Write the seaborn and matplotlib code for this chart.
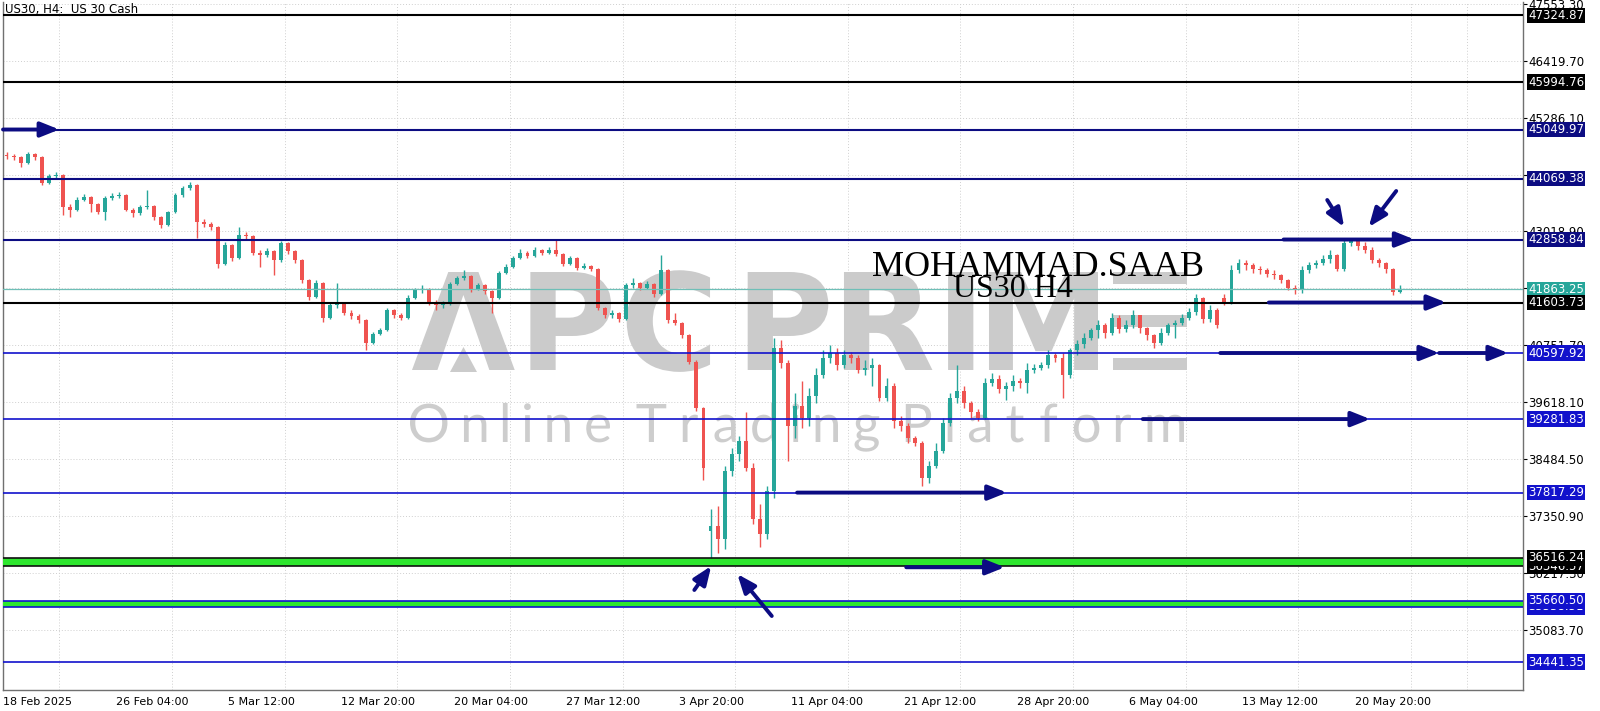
import matplotlib
matplotlib.use("Agg")
import matplotlib.pyplot as plt
import seaborn as sns
import numpy as np
from matplotlib.font_manager import FontProperties
from matplotlib.textpath import TextPath
from matplotlib.path import Path
from matplotlib.patches import PathPatch, Polygon, Rectangle
from matplotlib.transforms import Affine2D, IdentityTransform

# US30 H4, each candle here spans two H4 bars
opens = [44550, 44520, 44500, 44380, 44560, 44500, 43980, 44120, 44150, 43500,
         43450, 43650, 43700, 43560, 43400, 43680, 43720, 43750, 43450, 43380,
         43500, 43520, 43300, 43150, 43400, 43740, 43880, 43950, 43200, 43160,
         43100, 42380, 42750, 42500, 42950, 42920, 42600, 42560, 42620, 42450,
         42780, 42620, 42450, 42050, 41720, 42000, 41300, 41550, 41600, 41400,
         41330, 41250, 40800, 40980, 41050, 41450, 41350, 41300, 41700, 41850,
         41880, 41600, 41550, 41580, 41980, 42100, 42130, 41870, 41950, 41830,
         41700, 42200, 42320, 42500, 42600, 42540, 42640, 42600, 42640, 42580,
         42380, 42500, 42300, 42340, 42280, 41500, 41350, 41400, 41280, 41950,
         42000, 41900, 41980, 41780, 42250, 41260, 41200, 40950, 40420, 39500,
         37050, 37150, 36900, 38250, 38580, 38850, 38300, 37300, 37000, 37850,
         40700, 40400, 39150, 39550, 39300, 39750, 40150, 40500, 40600, 40350,
         40550, 40500, 40250, 40300, 40350, 39700, 39950, 39250, 39150, 38900,
         38800, 38100, 38350, 38650, 39200, 39700, 39850, 39600, 39420, 39300,
         40000, 40080, 39880, 39950, 40050, 40000, 40250, 40300, 40350, 40550,
         40500, 40150, 40650, 40780, 40900, 41050, 41150, 41000, 41300, 41080,
         41150, 41350, 41100, 40950, 40800, 41000, 41150, 41200, 41300, 41420,
         41700, 41280, 41450, 41700, 41600, 42250, 42400, 42350, 42280, 42260,
         42180, 42150, 42050, 41900, 41850, 42250, 42350, 42400, 42480, 42560,
         42280, 42780, 42820, 42720, 42650, 42450, 42400, 42280, 41820]

highs = [44600, 44570, 44520, 44600, 44580, 44520, 44160, 44200, 44170, 43560,
         43700, 43760, 43720, 43590, 43720, 43780, 43800, 43760, 43480, 43540,
         43840, 43540, 43320, 43430, 43780, 43920, 44010, 43960, 43260, 43200,
         43120, 42800, 42760, 43110, 43000, 42940, 42650, 42680, 42650, 42820,
         42800, 42640, 42470, 42080, 42050, 42020, 41600, 41990, 41620, 41450,
         41380, 41270, 41020, 41100, 41500, 41470, 41400, 41750, 41900, 41950,
         41900, 41650, 41640, 42020, 42140, 42250, 42150, 42000, 41980, 41850,
         42240, 42380, 42540, 42660, 42620, 42710, 42660, 42700, 42850, 42600,
         42540, 42520, 42400, 42360, 42300, 41520, 41450, 41420, 42000, 42100,
         42020, 42040, 42000, 42550, 42270, 41400, 41220, 40970, 40450, 39520,
         37500, 37550, 38350, 38700, 38950, 39420, 38400, 37600, 37950, 40900,
         40850, 40450, 39800, 40050, 39900, 40300, 40650, 40760, 40700, 40650,
         40620, 40550, 40450, 40500, 40380, 40100, 40000, 39350, 39200, 38950,
         38850, 38450, 38800, 39300, 39800, 40350, 39950, 39650, 39480, 40100,
         40200, 40150, 40020, 40150, 40100, 40400, 40380, 40420, 40650, 40600,
         40600, 40700, 40850, 41000, 41100, 41250, 41200, 41400, 41350, 41250,
         41450, 41350, 41120, 40980, 41100, 41200, 41260, 41380, 41500, 41780,
         41720, 41550, 41500, 41780, 42350, 42480, 42450, 42400, 42340, 42300,
         42250, 42180, 42080, 41950, 42330, 42420, 42450, 42550, 42650, 42580,
         42850, 42880, 42860, 42800, 42700, 42500, 42420, 42300, 41950]

lows = [44470, 44440, 44300, 44360, 44450, 43940, 43960, 44080, 43350, 43310,
        43420, 43620, 43400, 43360, 43250, 43640, 43690, 43420, 43300, 43350,
        43470, 43250, 43080, 43120, 43380, 43700, 43850, 42890, 43100, 43050,
        42300, 42350, 42440, 42480, 42850, 42560, 42320, 42520, 42150, 42420,
        42580, 42400, 42000, 41650, 41700, 41220, 41280, 41500, 41350, 41280,
        41200, 40650, 40780, 40950, 41030, 41300, 41250, 41280, 41680, 41800,
        41550, 41450, 41500, 41560, 41950, 42060, 41820, 41850, 41780, 41390,
        41680, 42180, 42300, 42480, 42500, 42520, 42560, 42580, 42540, 42330,
        42360, 42260, 42280, 42230, 41450, 41300, 41300, 41220, 41260, 41900,
        41860, 41880, 41720, 41750, 41200, 41150, 40900, 40380, 39450, 38070,
        36480, 36620, 36700, 38150, 38450, 38250, 37200, 36730, 36900, 37700,
        40300, 38450, 38900, 39100, 39150, 39600, 40100, 40400, 40250, 40300,
        40400, 40200, 40150, 39950, 39650, 39650, 39100, 39050, 38800, 38750,
        37950, 38000, 38300, 38600, 39150, 39600, 39500, 39300, 39250, 39280,
        39950, 39800, 39660, 39850, 39900, 39800, 40200, 40250, 40300, 40420,
        39700, 40100, 40550, 40700, 40850, 40900, 40900, 40950, 41000, 41020,
        41100, 41000, 40850, 40700, 40750, 40950, 40900, 41150, 41250, 41350,
        41200, 41220, 41100, 41550, 41580, 42200, 42250, 42200, 42180, 42120,
        42080, 42000, 41850, 41780, 41800, 42200, 42300, 42350, 42400, 42230,
        42230, 42720, 42650, 42600, 42400, 42320, 42200, 41750, 41790]

closes = [44520, 44500, 44380, 44560, 44500, 43980, 44120, 44150, 43500, 43450,
          43650, 43700, 43560, 43400, 43680, 43720, 43750, 43450, 43380, 43500,
          43520, 43300, 43150, 43400, 43740, 43880, 43950, 43200, 43160, 43100,
          42380, 42750, 42500, 42950, 42920, 42600, 42560, 42620, 42450, 42780,
          42620, 42450, 42050, 41720, 42000, 41300, 41550, 41600, 41400, 41330,
          41250, 40800, 40980, 41050, 41450, 41350, 41300, 41700, 41850, 41880,
          41600, 41550, 41580, 41980, 42100, 42130, 41870, 41950, 41830, 41700,
          42200, 42320, 42500, 42600, 42540, 42640, 42600, 42640, 42580, 42380,
          42500, 42300, 42340, 42280, 41500, 41350, 41400, 41280, 41950, 42000,
          41900, 41980, 41780, 42250, 41260, 41200, 40950, 40420, 39500, 38300,
          37150, 36900, 38250, 38580, 38850, 38300, 37300, 37000, 37850, 40700,
          40400, 39150, 39550, 39300, 39750, 40150, 40500, 40600, 40350, 40550,
          40500, 40250, 40300, 40350, 39700, 39950, 39250, 39150, 38900, 38800,
          38100, 38350, 38650, 39200, 39700, 39850, 39600, 39420, 39300, 40000,
          40080, 39880, 39950, 40050, 40000, 40250, 40300, 40350, 40550, 40500,
          40150, 40650, 40780, 40900, 41050, 41150, 41000, 41300, 41080, 41150,
          41350, 41100, 40950, 40800, 41000, 41150, 41200, 41300, 41420, 41700,
          41280, 41450, 41150, 41600, 42250, 42400, 42350, 42280, 42260, 42180,
          42150, 42050, 41900, 41850, 42250, 42350, 42400, 42480, 42560, 42280,
          42780, 42820, 42720, 42650, 42450, 42400, 42280, 41820, 41863]

date_labels = ["18 Feb 2025", "26 Feb 04:00", "5 Mar 12:00", "12 Mar 20:00",
               "20 Mar 04:00", "27 Mar 12:00", "3 Apr 20:00", "11 Apr 04:00",
               "21 Apr 12:00", "28 Apr 20:00", "6 May 04:00", "13 May 12:00",
               "20 May 20:00"]
candles_per_label = 16

price_ticks = [47553.30, 46419.70, 45286.10, 44152.50, 43018.90, 41885.30,
               40751.70, 39618.10, 38484.50, 37350.90, 36217.30, 35083.70]

black_levels = [47324.87, 45994.76, 41603.73]
navy_levels = [45049.97, 44069.38, 42858.84]
blue_levels = [40597.92, 39281.83, 37817.29, 34441.35]
upper_band = [36346.57, 36516.24]
lower_band = [35538.51, 35660.50]
last_price = 41863.25

W, H = 1600, 711
BULL, BEAR = "#26a69a", "#ef5350"
NAVY, BLUE, TEAL = "#0c0c82", "#1212cc", "#26a69a"
GREEN = "#2ee62e"
WM = "#cbcbcb"

sns.set_theme(style="white", rc={"axes.edgecolor": "#707070"})
plt.rcParams["font.family"] = ["DejaVu Sans"]

fig = plt.figure(figsize=(W / 100, H / 100), dpi=100)
fig.patch.set_facecolor("white")
ax = fig.add_axes([3 / W, (H - 690) / H, 1520 / W, 688 / H])
ax.set_facecolor("white")

px_per_candle = 7.04
ax.set_xlim(-0.5, -0.5 + 1520 / px_per_candle)
ax.set_ylim(33885, 47590)

# candles
o = np.array(opens, float)
c = np.array(closes, float)
hi = np.array(highs, float)
lo = np.array(lows, float)
x = np.arange(len(c))
col = np.where(c >= o, BULL, BEAR)
ax.vlines(x, lo, hi, colors=col, lw=1.0, zorder=3)
ax.bar(x, np.maximum(np.abs(c - o), 18), bottom=np.minimum(o, c), width=0.56,
       color=col, lw=0, zorder=3)

# axes, ticks, grid
ax.yaxis.tick_right()
ax.set_yticks(price_ticks)
ax.set_yticklabels([f"{p:.2f}" for p in price_ticks])
ax.tick_params(axis="y", length=3, width=0.8, pad=1, labelsize=8.5,
               colors="black", direction="out")
major_x = [candles_per_label * k - 0.5 for k in range(len(date_labels))]
ax.set_xticks(major_x)
ax.set_xticklabels(date_labels)
ax.set_xticks([candles_per_label // 2 * k - 0.5 for k in range(27)], minor=True)
ax.tick_params(axis="x", which="major", length=4, width=0.8, pad=1,
               labelsize=8, colors="black", direction="out")
ax.tick_params(axis="x", which="minor", length=0)
plt.setp(ax.get_xticklabels(), ha="left")
ax.grid(True, axis="y", which="major", ls=(0, (1, 2)), color="#cfcfcf", lw=0.7)
ax.grid(True, axis="x", which="minor", ls=(0, (1, 2)), color="#cfcfcf", lw=0.7)
ax.set_axisbelow(True)
for s in ["left", "right", "bottom"]:
    ax.spines[s].set_color("#707070")
    ax.spines[s].set_linewidth(1.0)
ax.spines["top"].set_visible(False)

# horizontal levels
for p in black_levels:
    ax.axhline(p, color="black", lw=1.5, zorder=4)
for p in navy_levels:
    ax.axhline(p, color=NAVY, lw=1.5, zorder=4)
for p in blue_levels:
    ax.axhline(p, color=BLUE, lw=1.2, zorder=4)
ax.axhspan(upper_band[0], upper_band[1], color=GREEN, lw=0, zorder=3.8)
ax.axhspan(lower_band[0], lower_band[1], color=GREEN, lw=0, zorder=3.8)
for p in upper_band:
    ax.axhline(p, color="#101010", lw=1.2, zorder=4)
for p in lower_band:
    ax.axhline(p, color=BLUE, lw=1.2, zorder=4)
ax.axhline(last_price, color="#6fbfb7", lw=0.9, zorder=4)


def price_box(p, bg):
    ax.text(1 + 5 / 1520, p, f"{p:.2f}", transform=ax.get_yaxis_transform(),
            ha="left", va="center", fontsize=8.5, color="white",
            bbox=dict(boxstyle="square,pad=0.1", fc=bg, ec="none"),
            clip_on=False, zorder=12)


for p in black_levels[:2]:
    price_box(p, "black")
for p in navy_levels:
    price_box(p, NAVY)
price_box(last_price, TEAL)
price_box(black_levels[2], "black")
for p in blue_levels[:3]:
    price_box(p, BLUE)
price_box(upper_band[0], "black")
price_box(upper_band[1], "black")
price_box(lower_band[0], BLUE)
price_box(lower_band[1], BLUE)
price_box(blue_levels[3], BLUE)

# hand-drawn arrows
arrows = [((-0.5, 45049.97), (7.5, 45049.97)),
          ((181.4, 42858.84), (200.0, 42858.84)),
          ((179.3, 41603.73), (204.5, 41603.73)),
          ((172.4, 40597.92), (203.5, 40597.92)),
          ((203.5, 40597.92), (213.3, 40597.92)),
          ((161.4, 39281.83), (193.7, 39281.83)),
          ((112.3, 37817.29), (142.1, 37817.29)),
          ((127.8, 36330), (141.8, 36330)),
          ((97.7, 35877), (100.1, 36355)),
          ((108.7, 35359), (103.8, 36196)),
          ((187.6, 43646), (190.0, 43108)),
          ((197.4, 43825), (193.5, 43108))]
for tail, tip in arrows:
    ax.annotate("", xy=tip, xytext=tail, zorder=8,
                arrowprops=dict(arrowstyle="-|>,head_length=0.8,head_width=0.32",
                                lw=2.8, color=NAVY, mutation_scale=14,
                                shrinkA=0, shrinkB=0))


# watermark built from glyph outlines, laid out in pixel space
def spaced_path(text, prop, gap, space):
    parts, pos = [], 0.0
    for ch in text:
        if ch == " ":
            pos += space
            continue
        p = TextPath((0, 0), ch, prop=prop)
        e = p.get_extents()
        parts.append(p.transformed(Affine2D().translate(pos - e.x0, 0)))
        pos += e.width + gap
    return Path.make_compound_path(*parts)


def watermark(text, prop, x0, x1, baseline, cap_px, space_px, color):
    cap = TextPath((0, 0), "H", prop=prop).get_extents().height
    k = cap_px / cap
    inks = [TextPath((0, 0), ch, prop=prop).get_extents().width
            for ch in text if ch != " "]
    n_sp = text.count(" ")
    gap = ((x1 - x0) / k - sum(inks) - n_sp * space_px / k) / (len(inks) - 1)
    path = spaced_path(text, prop, gap, space_px / k)
    e = path.get_extents()
    tr = Affine2D().translate(-e.x0, 0).scale(k).translate(x0, H - baseline)
    ax.add_artist(PathPatch(tr.transform_path(path), fc=color, ec="none",
                            transform=IdentityTransform(), zorder=1))


watermark("\u039bPC PRIM", FontProperties(family="DejaVu Sans", weight="bold", size=100),
          412, 1098, 370, 98, 22, WM)
ax.add_artist(Polygon([(450, H - 372), (477, H - 372), (463.5, H - 347)], closed=True,
                      fc=WM, ec="none", transform=IdentityTransform(), zorder=1))
for top in (272, 315, 358):
    ax.add_artist(Rectangle((1113, H - top - 12), 74, 12, fc=WM, ec="none",
                            transform=IdentityTransform(), zorder=1))
watermark("Online Trading Platform", FontProperties(family="Lato", weight="normal", size=100),
          410, 1184, 442, 38, 10, "#cdcdcd")

# texts
fig.text(5 / W, 1 - 13 / H, "US30, H4:  US 30 Cash", fontsize=8.5, color="black",
         va="baseline", ha="left")
fig.text(1038 / W, 1 - 276 / H, "MOHAMMAD.SAAB", fontsize=26, color="black",
         family="Liberation Serif", ha="center", va="baseline", zorder=20)
fig.text(1013 / W, 1 - 297 / H, "US30 H4", fontsize=23, color="black",
         family="Liberation Serif", ha="center", va="baseline", zorder=20)

fig.savefig("out.png", dpi=100, facecolor="white")
